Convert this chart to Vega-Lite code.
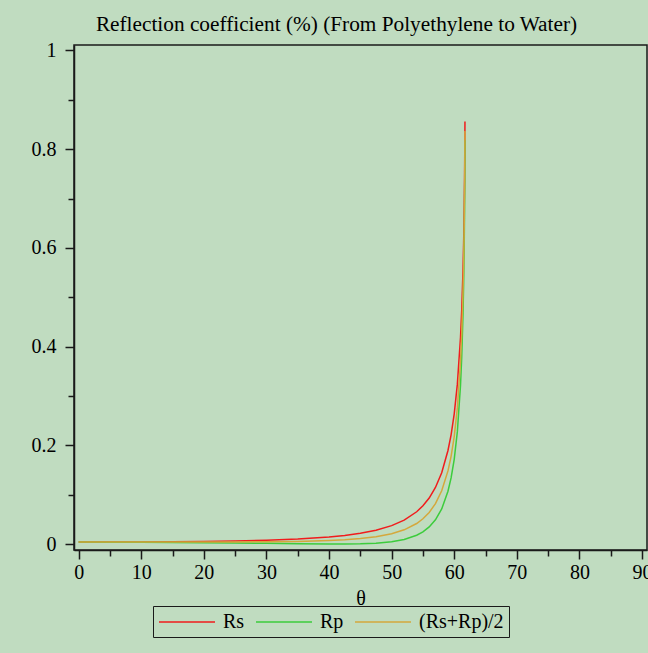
{
  "$schema": "https://vega.github.io/schema/vega-lite/v6.json",
  "autosize": "none",
  "width": 573,
  "height": 505,
  "padding": {"left": 74, "top": 45, "right": 1, "bottom": 103},
  "background": "#c0dcc0",
  "title": {"text": "Reflection coefficient (%) (From Polyethylene to Water)", "font": "Liberation Serif", "fontSize": 21.3, "fontWeight": "normal", "color": "#000000", "dx": -24, "offset": 5},
  "config": {
    "view": {"stroke": "#1a1a1a", "strokeWidth": 1.5},
    "axis": {"labelFont": "Liberation Serif", "labelFontSize": 20, "labelColor": "#000000", "titleFont": "Liberation Serif", "titleFontSize": 20, "titleFontWeight": "normal", "titleColor": "#000000", "domainColor": "#1a1a1a", "domainWidth": 1.5, "tickColor": "#1a1a1a", "tickWidth": 1.5, "grid": false, "labelOverlap": false, "labelFlush": false}
  },
  "data": {"values": [
    {"theta": 0, "Rs": 0.00402, "Rp": 0.00402, "avg": 0.00402},
    {"theta": 5, "Rs": 0.00409, "Rp": 0.00395, "avg": 0.00402},
    {"theta": 10, "Rs": 0.00431, "Rp": 0.00374, "avg": 0.00402},
    {"theta": 15, "Rs": 0.00471, "Rp": 0.00338, "avg": 0.00404},
    {"theta": 20, "Rs": 0.00534, "Rp": 0.00288, "avg": 0.00411},
    {"theta": 25, "Rs": 0.00632, "Rp": 0.00223, "avg": 0.00428},
    {"theta": 30, "Rs": 0.00784, "Rp": 0.00145, "avg": 0.00465},
    {"theta": 35, "Rs": 0.01027, "Rp": 0.00064, "avg": 0.00545},
    {"theta": 40, "Rs": 0.01434, "Rp": 0.00004, "avg": 0.00719},
    {"theta": 42.5, "Rs": 0.01747, "Rp": 0.00004, "avg": 0.00875},
    {"theta": 45, "Rs": 0.0218, "Rp": 0.00048, "avg": 0.01114},
    {"theta": 47.5, "Rs": 0.028, "Rp": 0.00176, "avg": 0.01488},
    {"theta": 50, "Rs": 0.03729, "Rp": 0.0047, "avg": 0.02099},
    {"theta": 52, "Rs": 0.04847, "Rp": 0.00933, "avg": 0.0289},
    {"theta": 54, "Rs": 0.06547, "Rp": 0.01794, "avg": 0.04171},
    {"theta": 55, "Rs": 0.07756, "Rp": 0.02489, "avg": 0.05122},
    {"theta": 56, "Rs": 0.09332, "Rp": 0.03476, "avg": 0.06404},
    {"theta": 57, "Rs": 0.11464, "Rp": 0.0492, "avg": 0.08192},
    {"theta": 58, "Rs": 0.14463, "Rp": 0.07121, "avg": 0.10792},
    {"theta": 59, "Rs": 0.18952, "Rp": 0.10697, "avg": 0.14825},
    {"theta": 59.5, "Rs": 0.2214, "Rp": 0.13397, "avg": 0.17768},
    {"theta": 60, "Rs": 0.2639, "Rp": 0.17167, "avg": 0.21779},
    {"theta": 60.5, "Rs": 0.32393, "Rp": 0.22771, "avg": 0.27582},
    {"theta": 61, "Rs": 0.41789, "Rp": 0.32083, "avg": 0.36936},
    {"theta": 61.2, "Rs": 0.47434, "Rp": 0.37951, "avg": 0.42692},
    {"theta": 61.4, "Rs": 0.55333, "Rp": 0.46461, "avg": 0.50897},
    {"theta": 61.5, "Rs": 0.60841, "Rp": 0.52586, "avg": 0.56714},
    {"theta": 61.55, "Rs": 0.64283, "Rp": 0.5649, "avg": 0.60387},
    {"theta": 61.6, "Rs": 0.68466, "Rp": 0.61306, "avg": 0.64886},
    {"theta": 61.65, "Rs": 0.73876, "Rp": 0.67653, "avg": 0.70765},
    {"theta": 61.7, "Rs": 0.81908, "Rp": 0.77306, "avg": 0.79607},
    {"theta": 61.715, "Rs": 0.85583, "Rp": 0.81813, "avg": 0.83698}
  ]},
  "encoding": {
    "x": {"field": "theta", "type": "quantitative",
      "scale": {"domain": [-0.75, 90.8], "nice": false, "zero": false},
      "axis": {"values": [0,5,10,15,20,25,30,35,40,45,50,55,60,65,70,75,80,85,90],
        "labelExpr": "datum.value % 10 === 0 ? datum.label : ''",
        "tickSize": {"condition": {"test": "datum.value % 10 === 0", "value": 9}, "value": 6},
        "labelPadding": 3, "title": "θ", "titlePadding": 6}
    },
    "y": {"type": "quantitative",
      "scale": {"domain": [-0.012, 1.011], "nice": false, "zero": false},
      "axis": {"values": [0,0.1,0.2,0.3,0.4,0.5,0.6,0.7,0.8,0.9,1], "format": "~g",
        "labelExpr": "round(datum.value*10) % 2 === 0 ? datum.label : ''",
        "tickSize": {"condition": {"test": "round(datum.value*10) % 2 === 0", "value": 9}, "value": 6},
        "labelPadding": 9, "title": null}}
  },
  "layer": [
    {"mark": {"type": "line", "strokeWidth": 1.5},
     "encoding": {
       "y": {"field": "Rs"},
       "color": {"datum": "Rs", "type": "nominal",
         "scale": {"domain": ["Rs", "Rp", "(Rs+Rp)/2"], "range": ["#f01c1c", "#3ccc3c", "#d4a83c"]},
         "legend": {"orient": "none", "legendX": 79, "legendY": 561, "direction": "horizontal", "title": null,
           "symbolType": "M-2.8,0H2.8", "symbolSize": 400, "symbolStrokeWidth": 1.5, "symbolOffset": 18,
           "labelFont": "Liberation Serif", "labelFontSize": 20, "labelColor": "#000000", "labelOffset": 25,
           "columnPadding": 8, "strokeColor": "#1a1a1a", "padding": 5}}
     }},
    {"mark": {"type": "line", "strokeWidth": 1.5},
     "encoding": {
       "y": {"field": "Rp"},
       "color": {"datum": "Rp", "type": "nominal"}
     }},
    {"mark": {"type": "line", "strokeWidth": 1.5},
     "encoding": {
       "y": {"field": "avg"},
       "color": {"datum": "(Rs+Rp)/2", "type": "nominal"}
     }}
  ]
}
